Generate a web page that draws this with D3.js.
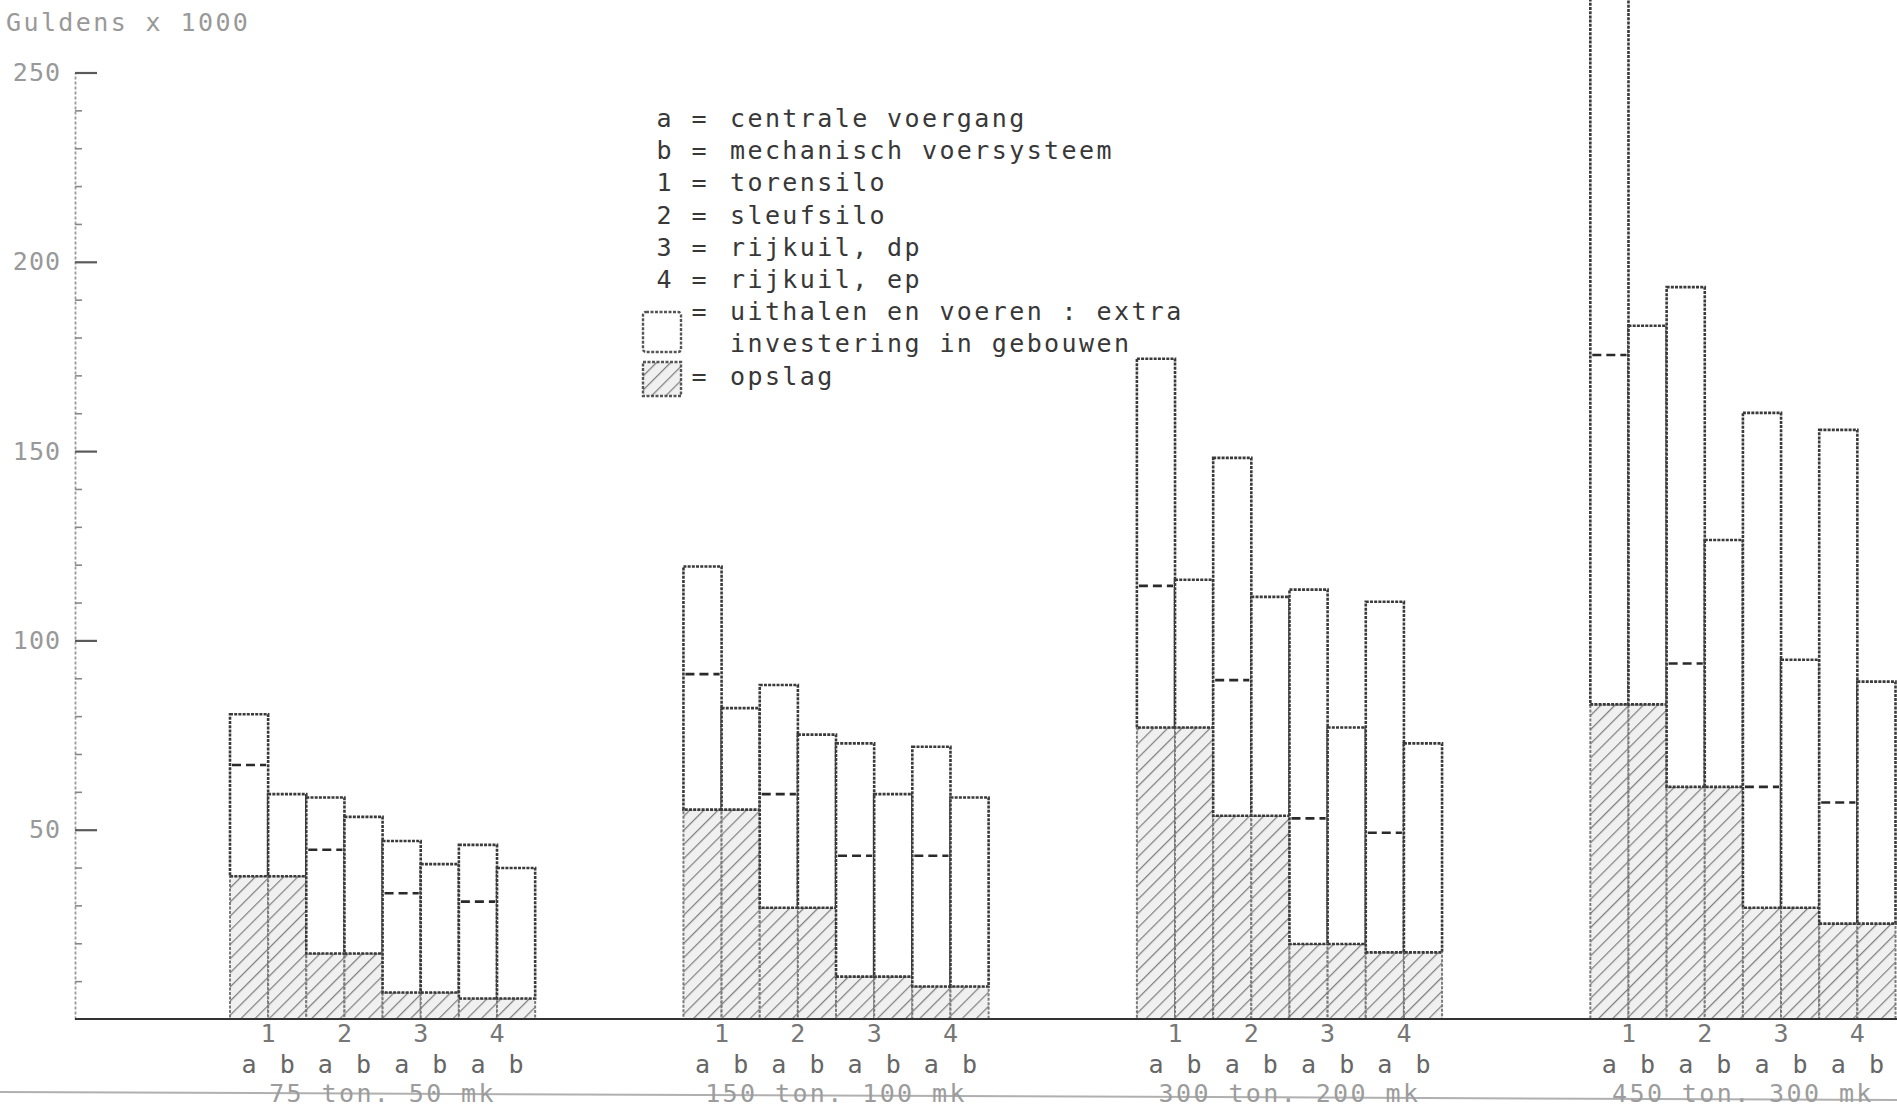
<!DOCTYPE html>
<html>
<head>
<meta charset="utf-8">
<script src="https://cdn.jsdelivr.net/npm/d3@7/dist/d3.min.js"></script>
<style>
  html, body { margin: 0; padding: 0; background: #fff; }
  svg { display: block; }
  text { font-family: "DejaVu Sans Mono", "Liberation Mono", monospace; }
</style>
</head>
<body>
<div id="chart"></div>
<script>
// bedrijfsgrootte per groep
const groups = ['75 ton. 50 mk', '150 ton. 100 mk', '300 ton. 200 mk', '450 ton. 300 mk'];
const systems = ['1', '2', '3', '4'];
const methods = ['a', 'b'];

// opslag (gearceerd), gelijk voor a en b
const opslag = [
  [37.7, 17.3, 7.0, 5.4],
  [55.3, 29.4, 11.2, 8.6],
  [77.0, 53.7, 19.8, 17.6],
  [83.1, 61.3, 29.4, 25.2]
];
// totaal voor a (centrale voergang); 450 ton 1a loopt boven de rand
const totaalA = [
  [80.5, 58.5, 47.0, 46.0],
  [119.5, 88.2, 72.8, 71.9],
  [174.4, 148.2, 113.4, 110.2],
  [290, 193.3, 160.1, 155.6]
];
// streepjeslijn binnen de a-staaf
const tussenA = [
  [67.1, 44.7, 33.2, 31.0],
  [91.1, 59.4, 43.1, 43.1],
  [114.4, 89.5, 53.0, 49.2],
  [175.4, 93.9, 61.3, 57.2]
];
// totaal voor b (mechanisch voersysteem)
const totaalB = [
  [59.4, 53.4, 40.9, 39.9],
  [82.1, 75.1, 59.4, 58.5],
  [116.0, 111.5, 77.0, 72.8],
  [183.1, 126.5, 94.9, 89.1]
];

const yTicks = [50, 100, 150, 200, 250];
const yMinorTicks = [10, 20, 30, 40, 60, 70, 80, 90, 110, 120, 130, 140, 160, 170, 180, 190, 210, 220, 230, 240];

const legendRows = [
  ['a', 'centrale voergang'],
  ['b', 'mechanisch voersysteem'],
  ['1', 'torensilo'],
  ['2', 'sleufsilo'],
  ['3', 'rijkuil, dp'],
  ['4', 'rijkuil, ep'],
  ['', 'uithalen en voeren : extra'],
  [null, 'investering in gebouwen'],
  ['', 'opslag']
];

const W = 1897, H = 1110;
const axisX = 75;
const ink = '#3a3a3a';
const faded = '#999';

const svg = d3.select('#chart').append('svg').attr('width', W).attr('height', H);

const defs = svg.append('defs');
const pat = defs.append('pattern')
  .attr('id', 'hatch')
  .attr('patternUnits', 'userSpaceOnUse')
  .attr('width', 10).attr('height', 10)
  .attr('patternTransform', 'rotate(45)');
pat.append('rect').attr('width', 10).attr('height', 10).attr('fill', '#f0f0f0');
pat.append('line').attr('x1', 0).attr('y1', 0).attr('x2', 0).attr('y2', 10)
  .attr('stroke', '#7e7e7e').attr('stroke-width', 2.4);

const y = d3.scaleLinear().domain([0, 250]).range([1019, 72.5]);

const xGroup = d3.scaleBand()
  .domain(groups)
  .range([230, 1895.5])
  .paddingInner(0.327)
  .paddingOuter(0);

const barKeys = [];
systems.forEach((s) => methods.forEach((m) => barKeys.push(s + m)));
const xBar = d3.scaleBand().domain(barKeys).range([0, xGroup.bandwidth()]).padding(0);

// flat bar list
const bars = [];
groups.forEach((g, gi) => {
  systems.forEach((s, si) => {
    methods.forEach((m) => {
      bars.push({
        group: g,
        key: s + m,
        method: m,
        opslag: opslag[gi][si],
        totaal: m === 'a' ? totaalA[gi][si] : totaalB[gi][si],
        tussen: m === 'a' ? tussenA[gi][si] : null
      });
    });
  });
});

const barX = (d) => xGroup(d.group) + xBar(d.key);

// scan line at bottom
svg.append('line')
  .attr('x1', 0).attr('y1', 1092).attr('x2', W).attr('y2', 1100)
  .attr('stroke', '#b0b0b0').attr('stroke-width', 2);

// title
svg.append('text')
  .attr('x', 6).attr('y', 31)
  .attr('font-size', 25).attr('letter-spacing', 2.4)
  .attr('fill', faded)
  .text('Guldens x 1000');

// y axis
const yAxis = svg.append('g')
  .attr('class', 'axis-y')
  .attr('transform', `translate(${axisX},0)`)
  .call(d3.axisLeft(y).tickValues(yTicks).tickSizeInner(-22).tickSizeOuter(0).tickPadding(14));
yAxis.select('.domain').attr('stroke', '#999').attr('stroke-width', 1.8).attr('stroke-dasharray', '3,2');
yAxis.selectAll('.tick line').attr('stroke', '#5a5a5a').attr('stroke-width', 2.2);
yAxis.selectAll('.tick text')
  .attr('fill', faded).attr('font-size', 25).attr('letter-spacing', 1)
  .attr('font-family', '"DejaVu Sans Mono", monospace');

const yMinor = svg.append('g')
  .attr('class', 'axis-y-minor')
  .attr('transform', `translate(${axisX},0)`)
  .call(d3.axisLeft(y).tickValues(yMinorTicks).tickSizeInner(-7).tickSizeOuter(0).tickFormat(() => ''));
yMinor.select('.domain').remove();
yMinor.selectAll('.tick line').attr('stroke', '#888').attr('stroke-width', 1.6);

// hatched storage part
svg.selectAll('.bar-opslag')
  .data(bars)
  .enter()
  .append('rect')
  .attr('class', 'bar-opslag')
  .attr('x', barX)
  .attr('y', (d) => y(d.opslag))
  .attr('width', xBar.bandwidth())
  .attr('height', (d) => y(0) - y(d.opslag))
  .attr('fill', 'url(#hatch)')
  .attr('stroke', '#7a7a7a')
  .attr('stroke-width', 2)
  .attr('stroke-dasharray', '3,1.5');

// white upper part
svg.selectAll('.bar-rest')
  .data(bars)
  .enter()
  .append('rect')
  .attr('class', 'bar-rest')
  .attr('x', barX)
  .attr('y', (d) => y(d.totaal))
  .attr('width', xBar.bandwidth())
  .attr('height', (d) => y(d.opslag) - y(d.totaal))
  .attr('fill', '#fff')
  .attr('stroke', ink)
  .attr('stroke-width', 2.6)
  .attr('stroke-dasharray', '3,1.2');

// dashed line in a bars
svg.selectAll('.bar-tussen')
  .data(bars.filter((d) => d.tussen !== null))
  .enter()
  .append('line')
  .attr('class', 'bar-tussen')
  .attr('x1', (d) => barX(d) + 2)
  .attr('x2', (d) => barX(d) + xBar.bandwidth() - 2)
  .attr('y1', (d) => y(d.tussen))
  .attr('y2', (d) => y(d.tussen))
  .attr('stroke', '#2a2a2a')
  .attr('stroke-width', 2.6)
  .attr('stroke-dasharray', '9,5');

// baseline
svg.append('line')
  .attr('x1', axisX).attr('x2', W)
  .attr('y1', y(0)).attr('y2', y(0))
  .attr('stroke', '#333').attr('stroke-width', 2.2);

// system numbers under each pair
const labelG = svg.append('g').attr('font-size', 25).attr('text-anchor', 'middle');
groups.forEach((g) => {
  systems.forEach((s) => {
    labelG.append('text')
      .attr('x', xGroup(g) + xBar(s + 'b'))
      .attr('y', 1042)
      .attr('fill', '#777')
      .text(s);
  });
  barKeys.forEach((k) => {
    labelG.append('text')
      .attr('x', xGroup(g) + xBar(k) + xBar.bandwidth() / 2)
      .attr('y', 1073)
      .attr('fill', '#666')
      .text(k.slice(1));
  });
  labelG.append('text')
    .attr('x', xGroup(g) + xGroup.bandwidth() / 2)
    .attr('y', 1102)
    .attr('letter-spacing', 2.4)
    .attr('fill', '#9c9c9c')
    .text(g);
});

// legend
const legend = svg.append('g').attr('font-size', 25).attr('fill', '#383838').attr('letter-spacing', 2.4);
const rowY = (i) => 127 + i * 32.2;
legendRows.forEach(([key, label], i) => {
  if (key) {
    legend.append('text').attr('x', 664).attr('y', rowY(i)).attr('text-anchor', 'middle').attr('letter-spacing', 0).text(key);
  }
  if (key !== null) {
    legend.append('text').attr('x', 699).attr('y', rowY(i)).attr('text-anchor', 'middle').attr('letter-spacing', 0).text('=');
  }
  legend.append('text').attr('x', 730).attr('y', rowY(i)).text(label);
});
legend.append('rect')
  .attr('x', 643).attr('y', 312).attr('width', 38).attr('height', 40)
  .attr('fill', '#fff').attr('stroke', '#555').attr('stroke-width', 2.4).attr('stroke-dasharray', '3,1.5')
  .attr('rx', 3);
legend.append('rect')
  .attr('x', 643).attr('y', 362).attr('width', 38).attr('height', 34)
  .attr('fill', 'url(#hatch)').attr('stroke', '#555').attr('stroke-width', 2.4).attr('stroke-dasharray', '3,1.5');
</script>
</body>
</html>
